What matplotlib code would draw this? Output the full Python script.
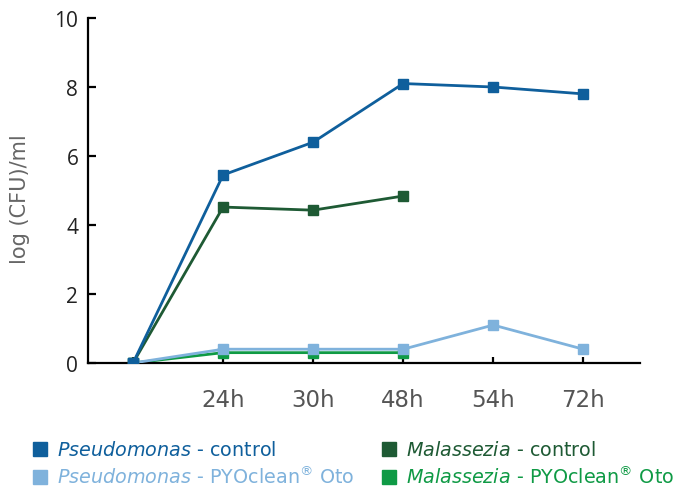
import matplotlib
matplotlib.use("Agg")
import matplotlib.pyplot as plt
from matplotlib.lines import Line2D

plt.rcParams["font.family"] = ["DejaVu Sans"]
plt.rcParams["mathtext.fontset"] = "dejavusans"

times = ["", "24h", "30h", "48h", "54h", "72h"]
pseudo_ctrl = [0, 5.45, 6.4, 8.1, 8.0, 7.8]
malass_ctrl = [0, 4.52, 4.43, 4.84]
pseudo_pyo = [0, 0.4, 0.4, 0.4, 1.1, 0.4]
malass_pyo = [0, 0.3, 0.3, 0.3]

c_pc = "#0f5f9c"
c_mc = "#1e5a34"
c_pp = "#7fb2dc"
c_mp = "#0f9a45"

W, H = 677, 489
fig = plt.figure(figsize=(W / 100, H / 100), dpi=100)
ax = fig.add_axes([88 / W, 1 - 364 / H, (640 - 88) / W, (364 - 19) / H])

kw = dict(marker="s", markersize=7.5, linewidth=2.0)
ax.plot(range(len(malass_pyo)), malass_pyo, color=c_mp, zorder=2, **kw)
ax.plot(range(len(pseudo_pyo)), pseudo_pyo, color=c_pp, zorder=3, **kw)
ax.plot(range(len(malass_ctrl)), malass_ctrl, color=c_mc, zorder=4, **kw)
ax.plot(range(len(pseudo_ctrl)), pseudo_ctrl, color=c_pc, zorder=5, **kw)

ax.set_xlim(-0.5, 5.63)
ax.set_ylim(0, 10)
ax.set_xticks(range(len(times)))
ax.set_xticklabels(times)
ax.set_yticks([0, 2, 4, 6, 8, 10])
for lab in ax.get_yticklabels():
    lab.set_fontfamily("Open Sans")
ax.spines["top"].set_visible(False)
ax.spines["right"].set_visible(False)
ax.spines["left"].set_linewidth(1.6)
ax.spines["bottom"].set_linewidth(1.6)
ax.tick_params(axis="y", direction="in", length=6, width=1.6, labelsize=15,
               labelcolor="#222222", pad=7)
ax.tick_params(axis="x", direction="in", length=4, width=1.6, labelsize=16.5,
               labelcolor="#555555", pad=18)
ax.set_ylabel("log (CFU)/ml", fontsize=15, color="#666666")
ax.yaxis.set_label_coords((30 - 88) / 552, (364 - 199) / 345)

# legend, laid out by hand in two columns
legend_items = [
    (r"$\it{Pseudomonas}$ - control", c_pc, 40, 450),
    (r"$\it{Pseudomonas}$ - PYOclean$^{®}$ Oto", c_pp, 40, 478),
    (r"$\it{Malassezia}$ - control", c_mc, 389, 450),
    (r"$\it{Malassezia}$ - PYOclean$^{®}$ Oto", c_mp, 389, 478),
]
for label, color, xp, yp in legend_items:
    fig.add_artist(Line2D([xp / W], [1 - yp / H], transform=fig.transFigure,
                          marker="s", markersize=10, linestyle="none",
                          color=color))
    fig.text((xp + 17) / W, 1 - (yp + 6) / H, label, color=color,
             fontsize=13.8, va="baseline", ha="left")

fig.savefig("out.png", dpi=100)
